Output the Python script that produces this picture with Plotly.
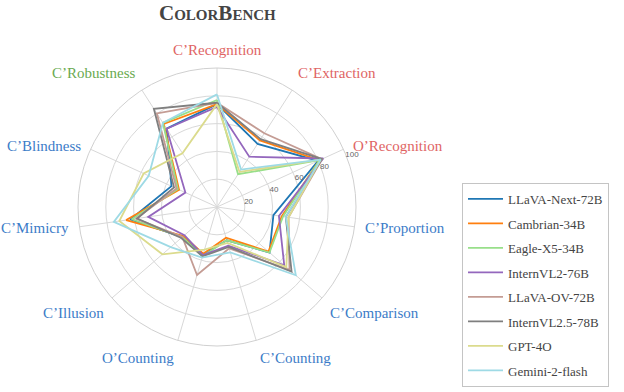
import numpy as np
import plotly.graph_objects as go

W, H = 624, 392

categories = ["C’Recognition", "C’Extraction", "O’Recognition", "C’Proportion",
              "C’Comparison", "C’Counting", "O’Counting", "C’Illusion",
              "C’Mimicry", "C’Blindness", "C’Robustness"]
label_groups = ["red", "red", "red", "blue", "blue", "blue", "blue", "blue",
                "blue", "blue", "green"]

models = ["LLaVA-Next-72B", "Cambrian-34B", "Eagle-X5-34B", "InternVL2-76B",
          "LLaVA-OV-72B", "InternVL2.5-78B", "GPT-4O", "Gemini-2-flash"]

llava_next = [74, 54, 80, 41, 50, 25, 36, 33, 63, 36, 67]
cambrian = [74, 57, 81, 47, 49, 23, 35, 32, 66, 30, 71]
eagle = [77, 28, 81, 48, 50, 25, 37, 33, 62, 31, 72]
internvl2 = [72, 43, 84, 45, 64, 29, 36, 31, 50, 25, 67]
llava_ov = [75, 63, 83, 52, 69, 31, 51, 33, 59, 32, 80]
internvl25 = [75, 58, 83, 50, 71, 30, 37, 34, 58, 34, 84]
gpt4o = [74, 30, 82, 52, 66, 27, 32, 52, 71, 58, 46]
gemini = [81, 32, 82, 50, 75, 34, 38, 44, 75, 54, 72]

scores = [llava_next, cambrian, eagle, internvl2, llava_ov, internvl25, gpt4o, gemini]
colors = ["#1f77b4", "#ff7f0e", "#98df8a", "#9467bd", "#c49c94", "#7f7f7f", "#dbdb8d", "#9edae5"]
label_colors = {"red": "#e06464", "blue": "#3c7cc8", "green": "#6aaa50"}

SERIF = "Liberation Serif, Times New Roman, serif"

# polar placement (pixels)
cx, cy, R = 217, 207, 139
step = 360 / len(categories)
rad_angle = 90 - 2 * step  # radial ticks run along O'Recognition spoke

fig = go.Figure()
for name, vals, col in zip(models, scores, colors):
    fig.add_trace(go.Scatterpolar(
        r=vals + vals[:1],
        theta=categories + categories[:1],
        mode="lines",
        name=name,
        legendgroup=name,
        line=dict(color=col, width=1.8),
    ))

fig.update_layout(
    width=W, height=H,
    margin=dict(l=0, r=0, t=0, b=0, autoexpand=False),
    paper_bgcolor="white",
    font=dict(family=SERIF, color="#444"),
    polar=dict(
        domain=dict(x=[(cx - R) / W, (cx + R) / W], y=[1 - (cy + R) / H, 1 - (cy - R) / H]),
        bgcolor="white",
        angularaxis=dict(rotation=90, direction="clockwise", showticklabels=False, ticks="",
                         gridcolor="#d8d8d8", linecolor="#d0d0d0", gridwidth=1),
        radialaxis=dict(range=[0, 100], tickvals=[20, 40, 60, 80, 100], showline=False,
                        angle=rad_angle, tickangle=rad_angle, ticks="", gridcolor="#d8d8d8",
                        tickfont=dict(size=8, color="#666", family="Liberation Sans")),
    ),
    legend=dict(x=462 / W, y=1 - 183 / H, xanchor="left", yanchor="top",
                bordercolor="#c4c4c4", borderwidth=1, bgcolor="white",
                font=dict(size=13, color="#444", family=SERIF),
                tracegroupgap=4.6, itemwidth=35),
)

# category labels around the chart
R0 = 147
for i, (cat, grp) in enumerate(zip(categories, label_groups)):
    a = np.deg2rad(90 - i * step)
    c, s = np.cos(a), np.sin(a)
    px, py = cx + R0 * c, cy - R0 * s
    xa = "left" if c > 0.05 else ("right" if c < -0.05 else "center")
    ya = "bottom" if s > 0.5 else ("top" if s < -0.5 else "middle")
    fig.add_annotation(x=px / W, y=1 - py / H, xref="paper", yref="paper",
                       text=cat, showarrow=False, xanchor=xa, yanchor=ya,
                       font=dict(size=15, color=label_colors[grp], family=SERIF))

fig.add_annotation(x=cx / W, y=1 - 13 / H, xref="paper", yref="paper", showarrow=False,
                   xanchor="center", yanchor="middle",
                   text="<b>C<span style='font-size:15px'>OLOR</span>B<span style='font-size:15px'>ENCH</span></b>",
                   font=dict(size=21, color="#444", family=SERIF))

fig.write_html("out.html", config={"displayModeBar": False},
               post_script="document.body.style.margin='0';")
